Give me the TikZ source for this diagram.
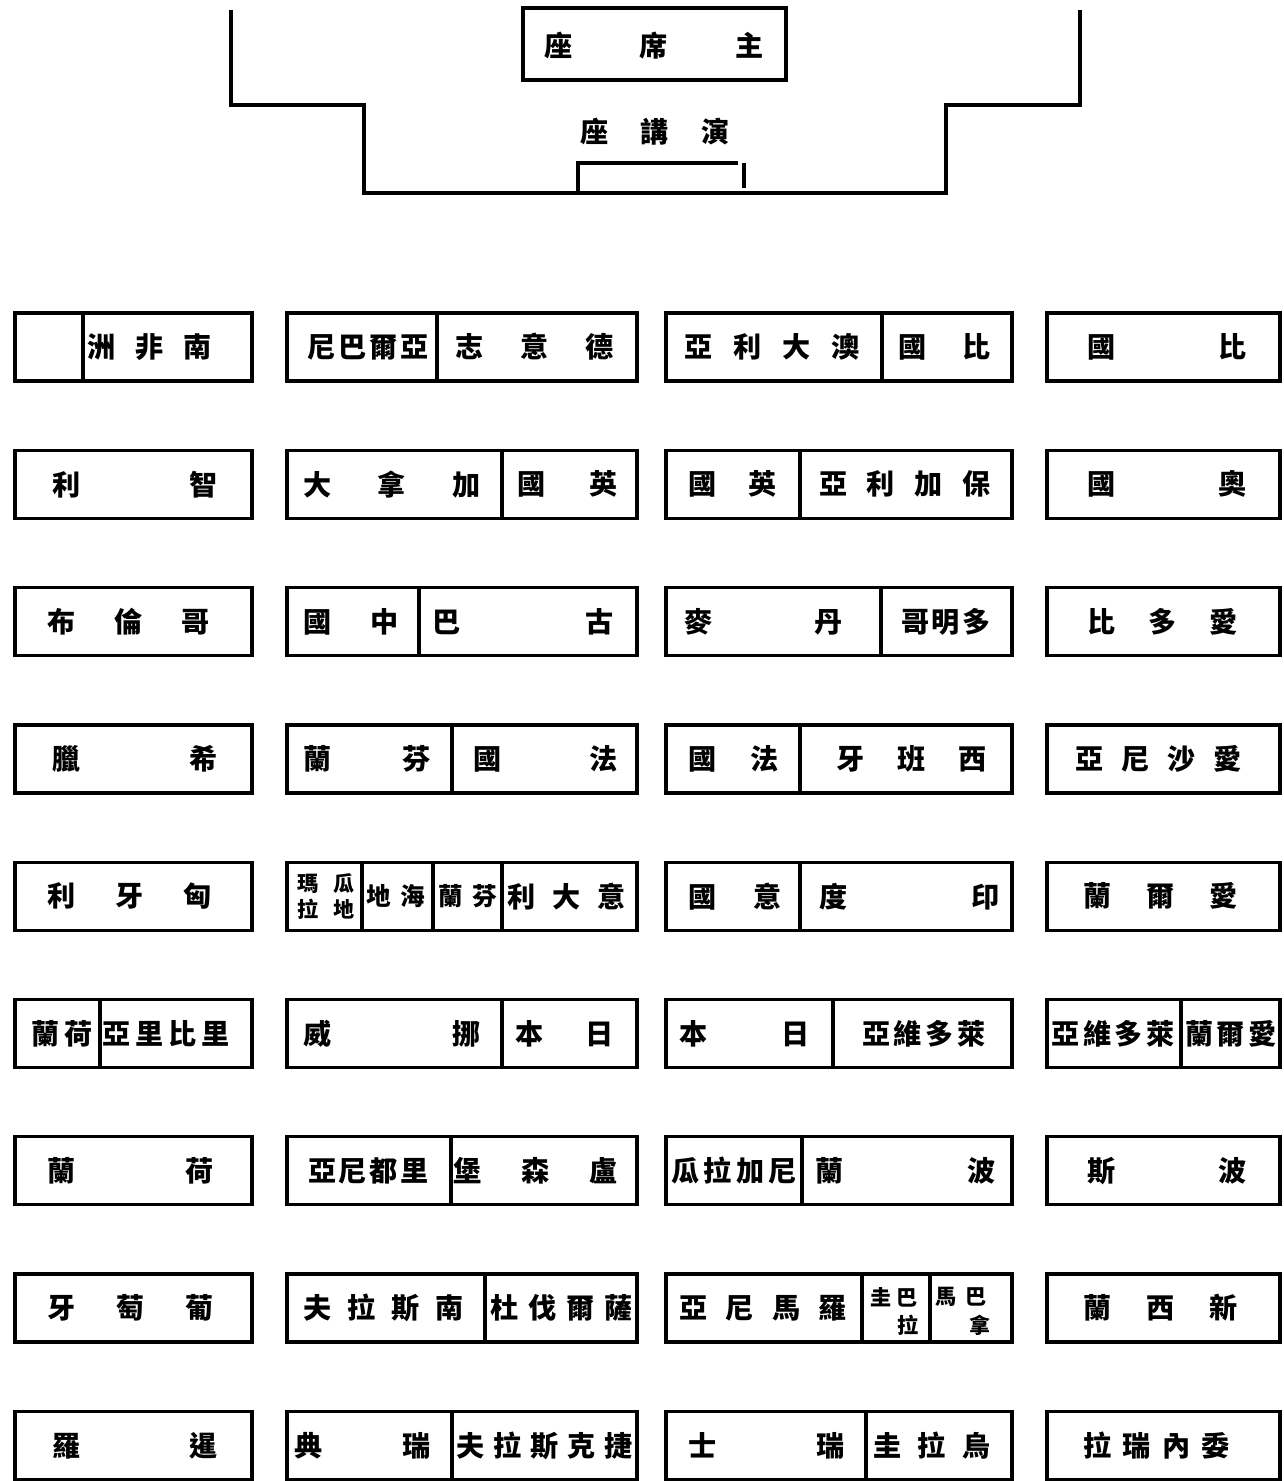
\documentclass[tikz,border=0pt]{standalone}
\usepackage{fontspec}
\newfontfamily\cjk{Noto Sans CJK TC}
\begin{document}
\begin{tikzpicture}[x=0.2mm,y=-0.2mm,
box/.style={draw,line width=1.9pt},
lab/.style={inner sep=0pt,font=\cjk\bfseries\fontsize{16}{16}\selectfont},
small/.style={inner sep=0pt,font=\cjk\bfseries\fontsize{14}{14}\selectfont},
tiny/.style={inner sep=0pt,align=center,font=\cjk\bfseries\fontsize{12}{15}\selectfont}]
\useasboundingbox (0,0) rectangle (1283,1481);
% rostrum
\draw[box] (523,8) rectangle (786,80);
\node[lab] (chair) at (654,46) {\makebox[44mm][s]{座\hfill 席\hfill 主}};
\draw[box] (231,10)--(231,105)--(364,105)--(364,193)--(946,193)--(946,105)--(1080,105)--(1080,10);
\node[lab] (speaker) at (655,132) {\makebox[29.8mm][s]{座\hfill 講\hfill 演}};
\draw[box] (578,193)--(578,163)--(738,163);
\draw[box] (744,163)--(744,188);
% desks
\foreach \r in {0,...,8}
  \foreach \a/\b in {15/252,287/637,666/1012,1047/1280}
    \draw[box] (\a,{313+137.3*\r}) rectangle (\b,{381+137.3*\r});
\foreach \x in {83,437,882} \draw[box] (\x,313)--(\x,381);
\foreach \x in {502,800} \draw[box] (\x,450.3)--(\x,518.3);
\foreach \x in {419,881} \draw[box] (\x,587.6)--(\x,655.6);
\foreach \x in {452,800} \draw[box] (\x,724.9)--(\x,792.9);
\foreach \x in {362,433,502,800} \draw[box] (\x,862.2)--(\x,930.2);
\foreach \x in {100,502,833,1181} \draw[box] (\x,999.5)--(\x,1067.5);
\foreach \x in {451,802} \draw[box] (\x,1136.8)--(\x,1204.8);
\foreach \x in {485,862,930} \draw[box] (\x,1274.1)--(\x,1342.1);
\foreach \x in {452,866} \draw[box] (\x,1411.4)--(\x,1479.4);
% row 1
\node[lab] (a1) at (150,347) {\makebox[24.8mm][s]{洲\hfill 非\hfill 南}};
\node[lab] (b1) at (368,347) {\makebox[24.2mm][s]{尼\hfill 巴\hfill 爾\hfill 亞}};
\node[lab] (c1) at (534.5,347) {\makebox[31.8mm][s]{志\hfill 意\hfill 德}};
\node[lab] (d1) at (772,347) {\makebox[35.2mm][s]{亞\hfill 利\hfill 大\hfill 澳}};
\node[lab] (e1) at (944.5,347) {\makebox[18.6mm][s]{國\hfill 比}};
\node[lab] (f1) at (1167,347) {\makebox[32mm][s]{國\hfill 比}};
% row 2
\node[lab] (a2) at (135.5,484.3) {\makebox[33mm][s]{利\hfill 智}};
\node[lab] (b2) at (392,484.3) {\makebox[35.6mm][s]{大\hfill 拿\hfill 加}};
\node[lab] (c2) at (567.5,484.3) {\makebox[20.2mm][s]{國\hfill 英}};
\node[lab] (d2) at (732.5,484.3) {\makebox[17.8mm][s]{國\hfill 英}};
\node[lab] (e2) at (905,484.3) {\makebox[34.4mm][s]{亞\hfill 利\hfill 加\hfill 保}};
\node[lab] (f2) at (1167,484.3) {\makebox[32mm][s]{國\hfill 奧}};
% row 3
\node[lab] (a3) at (129,621.6) {\makebox[32.4mm][s]{布\hfill 倫\hfill 哥}};
\node[lab] (b3) at (351,621.6) {\makebox[19.2mm][s]{國\hfill 中}};
\node[lab] (c3) at (523,621.6) {\makebox[36.4mm][s]{巴\hfill 古}};
\node[lab] (d3) at (763.5,621.6) {\makebox[31.8mm][s]{麥\hfill 丹}};
\node[lab] (e3) at (946,621.6) {\makebox[18mm][s]{哥\hfill 明\hfill 多}};
\node[lab] (f3) at (1162.5,621.6) {\makebox[30.2mm][s]{比\hfill 多\hfill 愛}};
% row 4
\node[lab] (a4) at (135.5,758.9) {\makebox[33mm][s]{臘\hfill 希}};
\node[lab] (b4) at (367,758.9) {\makebox[25.6mm][s]{蘭\hfill 芬}};
\node[lab] (c4) at (545.5,758.9) {\makebox[29mm][s]{國\hfill 法}};
\node[lab] (d4) at (733.5,758.9) {\makebox[18.2mm][s]{國\hfill 法}};
\node[lab] (e4) at (911.5,758.9) {\makebox[30.2mm][s]{牙\hfill 班\hfill 西}};
\node[lab] (f4) at (1158.5,758.9) {\makebox[33.4mm][s]{亞\hfill 尼\hfill 沙\hfill 愛}};
% row 5
\node[lab] (a5) at (130,896.2) {\makebox[32.8mm][s]{利\hfill 牙\hfill 匈}};
\node[tiny] (b5) at (326,896.2) {\makebox[11.6mm][s]{瑪\hfill 瓜}\\\makebox[11.6mm][s]{拉\hfill 地}};
\node[small] (c5) at (396,896.2) {\makebox[11.8mm][s]{地\hfill 海}};
\node[small] (d5) at (467.5,896.2) {\makebox[11.8mm][s]{蘭\hfill 芬}};
\node[lab] (e5) at (566.5,896.2) {\makebox[23.8mm][s]{利\hfill 大\hfill 意}};
\node[lab] (f5) at (735,896.2) {\makebox[18.8mm][s]{國\hfill 意}};
\node[lab] (g5) at (909.5,896.2) {\makebox[36.2mm][s]{度\hfill 印}};
\node[lab] (h5) at (1160.5,896.2) {\makebox[31mm][s]{蘭\hfill 爾\hfill 愛}};
% row 6
\node[lab] (a6) at (62,1033.5) {\makebox[12.2mm][s]{蘭\hfill 荷}};
\node[lab] (b6) at (166,1033.5) {\makebox[25.4mm][s]{亞\hfill 里\hfill 比\hfill 里}};
\node[lab] (c6) at (392,1033.5) {\makebox[35.6mm][s]{威\hfill 挪}};
\node[lab] (d6) at (564.5,1033.5) {\makebox[19.8mm][s]{本\hfill 日}};
\node[lab] (e6) at (744.5,1033.5) {\makebox[26.2mm][s]{本\hfill 日}};
\node[lab] (f6) at (924,1033.5) {\makebox[24.8mm][s]{亞\hfill 維\hfill 多\hfill 萊}};
\node[lab] (g6) at (1113,1033.5) {\makebox[24.6mm][s]{亞\hfill 維\hfill 多\hfill 萊}};
\node[lab] (h6) at (1231,1033.5) {\makebox[18.4mm][s]{蘭\hfill 爾\hfill 愛}};
% row 7
\node[lab] (a7) at (131,1170.8) {\makebox[33.2mm][s]{蘭\hfill 荷}};
\node[lab] (b7) at (368.5,1170.8) {\makebox[24.2mm][s]{亞\hfill 尼\hfill 都\hfill 里}};
\node[lab] (c7) at (535.5,1170.8) {\makebox[33mm][s]{堡\hfill 森\hfill 盧}};
\node[lab] (d7) at (734,1170.8) {\makebox[25mm][s]{瓜\hfill 拉\hfill 加\hfill 尼}};
\node[lab] (e7) at (905.5,1170.8) {\makebox[36.2mm][s]{蘭\hfill 波}};
\node[lab] (f7) at (1167,1170.8) {\makebox[32mm][s]{斯\hfill 波}};
% row 8
\node[lab] (a8) at (131,1308.1) {\makebox[33.2mm][s]{牙\hfill 萄\hfill 葡}};
\node[lab] (b8) at (383.5,1308.1) {\makebox[32.2mm][s]{夫\hfill 拉\hfill 斯\hfill 南}};
\node[lab] (c8) at (561.5,1308.1) {\makebox[28.6mm][s]{杜\hfill 伐\hfill 爾\hfill 薩}};
\node[lab] (d8) at (763,1308.1) {\makebox[33.6mm][s]{亞\hfill 尼\hfill 馬\hfill 羅}};
\node[tiny] (e8) at (894,1297) {\makebox[9.6mm][s]{圭\hfill 巴}};
\node[tiny] (e8b) at (908,1325) {拉};
\node[tiny] (f8) at (961,1297) {\makebox[10.2mm][s]{馬\hfill 巴}};
\node[tiny] (f8b) at (980,1325) {拿};
\node[lab] (g8) at (1160.5,1308.1) {\makebox[31mm][s]{蘭\hfill 西\hfill 新}};
% row 9
\node[lab] (a9) at (135.5,1445.4) {\makebox[33mm][s]{羅\hfill 暹}};
\node[lab] (b9) at (362.5,1445.4) {\makebox[27.4mm][s]{典\hfill 瑞}};
\node[lab] (c9) at (544.5,1445.4) {\makebox[35.4mm][s]{夫\hfill 拉\hfill 斯\hfill 克\hfill 捷}};
\node[lab] (d9) at (766.5,1445.4) {\makebox[31.4mm][s]{士\hfill 瑞}};
\node[lab] (e9) at (932,1445.4) {\makebox[23.6mm][s]{圭\hfill 拉\hfill 烏}};
\node[lab] (f9) at (1156.5,1445.4) {\makebox[29.4mm][s]{拉\hfill 瑞\hfill 內\hfill 委}};
\end{tikzpicture}
\end{document}
